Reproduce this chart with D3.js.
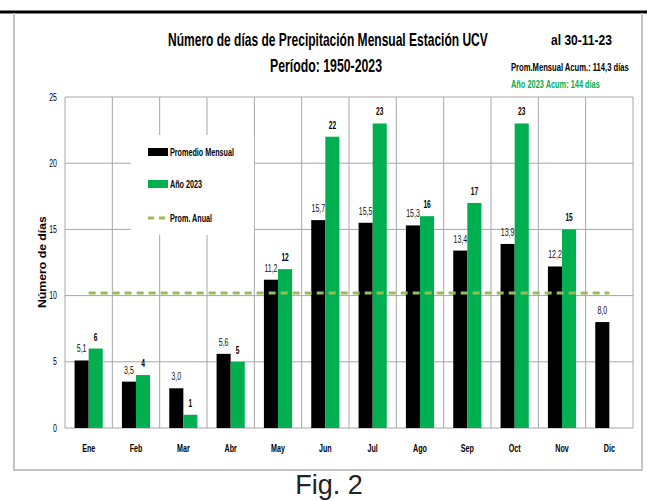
<!DOCTYPE html>
<html>
<head>
<meta charset="utf-8">
<script src="https://cdn.jsdelivr.net/npm/d3@7"></script>
<style>
  body { margin: 0; background: #fff; }
  svg { display: block; }
  text { font-family: "Liberation Sans", Arial, sans-serif; }
</style>
</head>
<body>
<div class="chart"></div>
<script>
// datos
var meses = ["Ene", "Feb", "Mar", "Abr", "May", "Jun", "Jul", "Ago", "Sep", "Oct", "Nov", "Dic"];
var promedio = [5.1, 3.5, 3.0, 5.6, 11.2, 15.7, 15.5, 15.3, 13.4, 13.9, 12.2, 8.0];
var anio2023 = [6, 4, 1, 5, 12, 22, 23, 16, 17, 23, 15, null];
var promAnual = 10.2;
var yTicks = [0, 5, 10, 15, 20, 25];

var w = 647, h = 501;
var SX = 0.7; // letra angosta tipo Calibri
var svg = d3.select(".chart").append("svg")
  .attr("width", w).attr("height", h)
  .attr("viewBox", "0 0 " + w + " " + h);

var m = {left: 65, right: 633, top: 97, bottom: 428};

var x = d3.scaleBand().domain(meses).range([m.left, m.right]);
var xs = d3.scaleBand().domain(["p", "a"]).range([0, x.bandwidth()]).paddingOuter(0.68);
var y = d3.scaleLinear().domain([0, 25]).range([m.bottom, m.top]);

function nt(sel, px, py, size, sx) {
  return sel.append("text")
    .attr("transform", "translate(" + px + "," + py + ") scale(" + (sx || SX) + ",1)")
    .attr("font-size", size);
}
// texto ajustado a un ancho dado
function fit(sel, px, py, size, width, str, rot) {
  var t = sel.append("text").attr("font-size", size).attr("font-weight", "bold").text(str);
  var k = width / t.node().getComputedTextLength();
  t.attr("transform", "translate(" + px + "," + py + ")" + (rot ? " rotate(" + rot + ")" : "") + " scale(" + k + ",1)");
  return t;
}

// marco
svg.append("line").attr("x1", 0).attr("x2", w).attr("y1", 12).attr("y2", 12)
  .attr("stroke", "#000").attr("stroke-width", 3);
svg.append("path").attr("d", "M14,13V470H642V13")
  .attr("fill", "none").attr("stroke", "#c4c4c4").attr("stroke-width", 2);

// grilla
svg.append("g").selectAll("line").data(yTicks).enter().append("line")
  .attr("x1", m.left).attr("x2", m.right)
  .attr("y1", function(d){ return y(d); }).attr("y2", function(d){ return y(d); })
  .attr("stroke", "#a6a6a6").attr("stroke-width", 1);
svg.append("g").selectAll("line").data(meses.concat(["_end"])).enter().append("line")
  .attr("x1", function(d){ return d == "_end" ? m.right : x(d); })
  .attr("x2", function(d){ return d == "_end" ? m.right : x(d); })
  .attr("y1", m.top).attr("y2", m.bottom)
  .attr("stroke", "#a6a6a6").attr("stroke-width", 1);

// eje y
yTicks.forEach(function(d){
  nt(svg, 57, y(d) + 3.5, 10).attr("text-anchor", "end").text(d);
});
fit(svg, 46, 308, 10, 92, "Número de días", -90);

// eje x
meses.forEach(function(d){
  nt(svg, x(d) + x.bandwidth() / 2, 451.5, 10.5, 0.68)
    .attr("text-anchor", "middle").attr("font-weight", "bold").text(d);
});

// barras
var g = svg.append("g");
g.selectAll(".prom").data(promedio).enter().append("rect").attr("class", "prom")
  .attr("x", function(d, i){ return x(meses[i]) + xs("p"); })
  .attr("width", xs.bandwidth())
  .attr("y", function(d){ return y(d); })
  .attr("height", function(d){ return y(0) - y(d); })
  .attr("fill", "#000");
var an = anio2023.map(function(d, i){ return {v: d, m: meses[i]}; }).filter(function(d){ return d.v != null; });
g.selectAll(".anio").data(an).enter().append("rect").attr("class", "anio")
  .attr("x", function(d){ return x(d.m) + xs("a"); })
  .attr("width", xs.bandwidth())
  .attr("y", function(d){ return y(d.v); })
  .attr("height", function(d){ return y(0) - y(d.v); })
  .attr("fill", "#00b050");

// etiquetas
promedio.forEach(function(d, i){
  nt(g, x(meses[i]) + xs("p") + xs.bandwidth() / 2, y(d) - 8, 10)
    .attr("text-anchor", "middle").attr("fill", "#111")
    .text(d.toFixed(1).replace(".", ","));
});
an.forEach(function(d){
  nt(g, x(d.m) + xs("a") + xs.bandwidth() / 2, y(d.v) - 8, 10, 0.66)
    .attr("text-anchor", "middle").attr("font-weight", "bold").text(d.v);
});

// promedio anual
svg.append("line")
  .attr("x1", x("Ene") + x.bandwidth() / 2).attr("x2", x("Dic") + x.bandwidth() / 2)
  .attr("y1", y(promAnual)).attr("y2", y(promAnual))
  .attr("stroke", "#9bbb59").attr("stroke-width", 3).attr("stroke-dasharray", "7,5");

// leyenda
var lg = svg.append("g");
lg.append("rect").attr("x", 131).attr("y", 135).attr("width", 123).attr("height", 100).attr("fill", "#fff");
var items = [
  {t: "Promedio Mensual", c: "#000", y: 152},
  {t: "Año 2023", c: "#00b050", y: 184},
  {t: "Prom. Anual", c: "#9bbb59", y: 218, dash: true}
];
items.forEach(function(it){
  if (it.dash) {
    lg.append("line").attr("x1", 148).attr("x2", 168).attr("y1", it.y).attr("y2", it.y)
      .attr("stroke", it.c).attr("stroke-width", 3).attr("stroke-dasharray", "6,5");
  } else {
    lg.append("rect").attr("x", 148).attr("y", it.y - 4).attr("width", 20).attr("height", 8).attr("fill", it.c);
  }
  nt(lg, 170, it.y + 3.5, 10, 0.72).attr("font-weight", "bold").text(it.t);
});

// titulos
fit(svg, 168, 46, 18, 320, "Número de días de Precipitación Mensual Estación UCV");
fit(svg, 270, 72, 18, 112, "Período: 1950-2023");
fit(svg, 551, 45, 14, 61, "al 30-11-23");
fit(svg, 511, 71, 10, 118, "Prom.Mensual  Acum.: 114,3 días");
fit(svg, 511, 87.5, 10, 89, "Año 2023 Acum: 144 días").attr("fill", "#00b050");

svg.append("text").attr("x", 329).attr("y", 494).attr("text-anchor", "middle")
  .attr("font-size", 27).attr("fill", "#222")
  .text("Fig. 2");
</script>
</body>
</html>
